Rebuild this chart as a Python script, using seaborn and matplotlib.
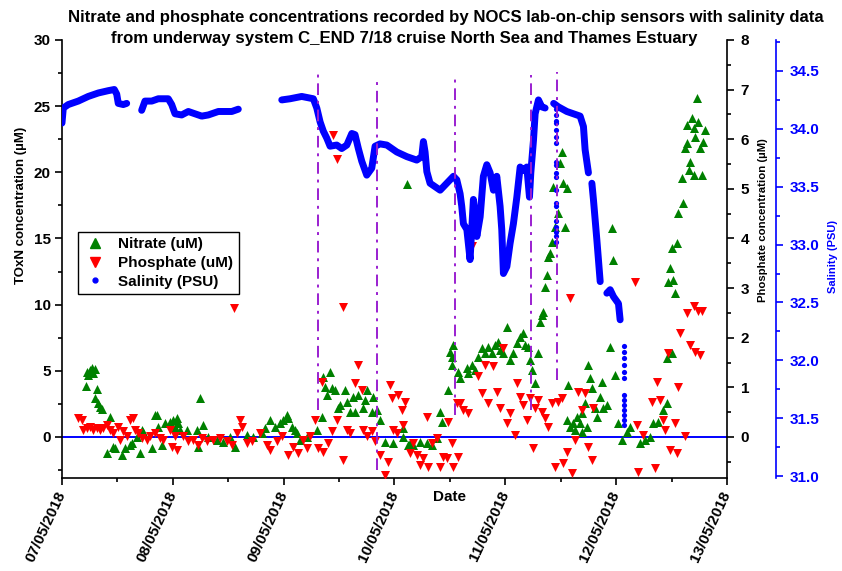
import numpy as np
import pandas as pd
import matplotlib
matplotlib.use("Agg")
import matplotlib.pyplot as plt
import seaborn as sns
from matplotlib.ticker import MultipleLocator, FormatStrFormatter
from matplotlib.lines import Line2D

# ---------------- data (time in days after 07/05/2018 00:00) ----------------
date_labels = ["07/05/2018", "08/05/2018", "09/05/2018", "10/05/2018",
               "11/05/2018", "12/05/2018", "13/05/2018"]

nitrate_day = [0.226, 0.253, 0.271, 0.298, 0.280, 0.235, 0.214, 0.313, 0.298, 0.328,
               0.343, 0.358, 0.433, 0.403, 0.463, 0.478, 0.539, 0.569, 0.614, 0.629,
               0.674, 0.704, 0.719, 0.734, 0.810, 0.839, 0.855, 0.869, 0.900, 0.930,
               0.975, 1.005, 1.035, 1.050, 1.020, 1.065, 1.125, 1.216, 1.245, 1.275,
               1.230, 1.320, 1.396, 1.456, 1.516, 1.561, 1.667, 1.727, 1.802, 1.832,
               1.877, 1.922, 1.968, 1.997, 2.028, 2.042, 2.073, 2.103, 2.118, 2.148,
               2.208, 2.299, 2.344, 2.358, 2.419, 2.374, 2.389, 2.434, 2.464, 2.494,
               2.509, 2.554, 2.569, 2.599, 2.629, 2.644, 2.674, 2.719, 2.735, 2.750,
               2.795, 2.810, 2.840, 2.870, 2.915, 2.990, 3.080, 3.125, 3.171, 3.231,
               3.292, 3.337, 3.412, 3.427, 3.486, 3.517, 3.502, 3.111, 3.080, 3.141,
               3.382, 3.532, 3.517, 3.577, 3.592, 3.653, 3.667, 3.698, 3.727, 3.757,
               3.788, 3.818, 3.848, 3.878, 3.908, 3.938, 3.953, 3.983, 4.014, 4.043,
               4.073, 4.104, 4.134, 4.163, 4.179, 4.209, 4.224, 4.239, 4.269, 4.299,
               4.314, 4.329, 4.344, 4.359, 4.375, 4.389, 4.404, 4.420, 4.449, 4.479,
               4.434, 4.495, 4.510, 4.524, 4.540, 4.555, 4.569, 4.615, 4.645, 4.690,
               4.720, 4.750, 4.765, 4.781, 4.810, 4.826, 4.856, 4.871, 4.885, 4.916,
               4.946, 4.961, 4.976, 4.991, 5.021, 5.051, 5.097, 5.126, 5.217, 5.262,
               5.307, 5.337, 5.382, 5.427, 5.458, 5.458, 5.503, 5.472, 5.517, 5.487,
               5.532, 5.503, 5.548, 5.562, 5.607, 5.593, 5.623, 5.638, 5.653, 5.668,
               5.683, 5.638, 5.698, 5.713, 5.728, 5.743, 5.698, 5.758, 5.773, 5.788,
               5.803, 4.555, 4.585, 4.630, 4.675, 4.690, 4.736]
nitrate_um = [4.91, 5.06, 5.22, 5.14, 4.84, 4.69, 3.86, 3.63, 2.97, 2.57,
              2.29, 2.12, 1.53, -1.19, -0.73, -0.83, -1.36, -0.83, -0.60, -0.45,
              0.02, -1.21, 0.53, 0.40, -0.85, 1.66, 1.66, 0.78, -0.60, 1.04,
              1.16, 1.28, 1.41, 1.04, 0.78, 0.53, 0.53, 0.53, 2.93, 0.91,
              -0.73, 0.02, -0.23, -0.36, 0.02, -0.73, 0.15, 0.02, 0.28, 0.66,
              1.28, 0.78, 1.04, 1.28, 1.66, 1.41, 0.78, 0.53, 0.28, -0.23,
              0.02, 0.53, 1.49, 4.56, 4.89, 3.80, 3.17, 3.68, 3.55, 2.17,
              2.42, 3.55, 2.67, 1.91, 3.05, 1.91, 3.17, 2.17, 2.80, 3.55,
              1.91, 3.05, 2.04, 1.28, -0.36, -0.48, 0.02, -0.60, -0.60, -0.36,
              -0.48, -0.60, 1.91, 1.16, 3.55, 5.44, 6.45, 19.12, 0.66, -0.48,
              -0.10, 6.95, 6.07, 4.94, 4.44, 5.19, 4.81, 5.44, 5.06, 6.07,
              6.70, 6.33, 6.83, 6.33, 6.95, 7.20, 6.58, 6.33, 8.34, 5.82,
              6.33, 7.08, 7.58, 7.84, 6.95, 6.83, 5.82, 5.06, 4.06, 6.33,
              8.72, 9.22, 9.47, 11.36, 12.24, 13.63, 13.89, 14.76, 15.90, 16.91,
              18.92, 20.69, 21.57, 19.18, 15.90, 18.80, 3.93, 1.04, 1.53, 1.79,
              2.55, 5.44, 4.44, 3.68, 2.17, 1.53, 3.05, 4.18, 2.17, 2.42,
              6.83, 15.77, 13.38, 4.69, 1.04, -0.23, 0.40, 0.78, -0.48, -0.23,
              0.02, 1.04, 1.16, 2.04, 2.55, 5.95, 6.33, 11.74, 11.87, 12.75,
              10.86, 14.26, 14.64, 16.91, 17.66, 19.55, 21.82, 22.20, 20.18, 20.81,
              24.09, 23.58, 23.33, 22.70, 25.60, 23.83, 19.80, 21.82, 19.80, 22.32,
              23.20, 1.28, 0.78, 0.53, 1.04, 0.40, 0.78]

phosphate_day = [0.147, 0.178, 0.192, 0.223, 0.253, 0.282, 0.313, 0.343, 0.373, 0.403,
                 0.433, 0.463, 0.508, 0.523, 0.553, 0.584, 0.614, 0.644, 0.659, 0.689,
                 0.719, 0.764, 0.794, 0.839, 0.884, 0.914, 0.975, 0.990, 1.035, 1.020,
                 1.095, 1.140, 1.185, 1.230, 1.261, 1.306, 1.366, 1.426, 1.486, 1.532,
                 1.577, 1.552, 1.606, 1.622, 1.667, 1.712, 1.787, 1.848, 1.877, 1.938,
                 1.983, 2.042, 2.088, 2.133, 2.178, 2.208, 2.238, 2.283, 2.313, 2.344,
                 2.358, 2.403, 2.434, 2.449, 2.479, 2.479, 2.539, 2.536, 2.569, 2.599,
                 2.644, 2.674, 2.705, 2.719, 2.750, 2.795, 2.825, 2.870, 2.915, 2.945,
                 2.960, 2.976, 2.990, 3.021, 3.035, 3.066, 3.096, 3.080, 3.141, 3.171,
                 3.201, 3.231, 3.261, 3.292, 3.306, 3.337, 3.382, 3.412, 3.441, 3.472,
                 3.486, 3.517, 3.532, 3.562, 3.577, 3.592, 3.622, 3.667, 3.698, 3.757,
                 3.788, 3.818, 3.848, 3.893, 3.923, 3.953, 3.983, 4.014, 4.043, 4.088,
                 4.104, 4.134, 4.163, 4.194, 4.224, 4.254, 4.269, 4.299, 4.329, 4.359,
                 4.389, 4.420, 4.449, 4.479, 4.510, 4.524, 4.555, 4.585, 4.600, 4.630,
                 4.660, 4.690, 4.720, 4.750, 4.781, 4.795, 5.172, 5.187, 5.201, 5.246,
                 5.322, 5.352, 5.367, 5.397, 5.427, 5.442, 5.472, 5.487, 5.532, 5.548,
                 5.562, 5.578, 5.623, 5.638, 5.668, 5.698, 5.713, 5.743, 5.758, 5.773]
phosphate_um = [0.38, 0.34, 0.14, 0.18, 0.21, 0.14, 0.18, 0.14, 0.18, 0.24,
                0.14, 0.07, 0.21, -0.06, 0.11, 0.01, 0.34, 0.38, 0.14, 0.07,
                -0.03, -0.06, 0.01, 0.07, -0.03, -0.06, 0.14, -0.20, -0.26, 0.01,
                0.01, -0.09, -0.06, -0.16, -0.03, -0.09, -0.06, -0.03, -0.09, -0.16,
                0.07, 2.60, 0.34, 0.21, -0.13, -0.09, 0.07, -0.16, -0.26, -0.09,
                0.01, -0.36, -0.20, -0.33, -0.06, -0.23, 0.01, 0.34, -0.23, 1.11,
                -0.30, -0.13, 0.11, 6.09, 5.60, 0.34, -0.46, 2.62, 0.14, 0.07,
                1.08, 1.45, 0.95, 0.14, 0.01, 0.11, -0.09, -0.36, -0.77, -0.50,
                1.05, 0.78, 0.14, 0.07, 0.85, 0.54, 0.71, 0.24, -0.33, -0.13,
                -0.36, -0.56, -0.43, 0.41, -0.60, -0.13, -0.03, -0.60, -0.40, -0.43,
                0.31, -0.13, -0.60, 0.68, -0.40, 0.68, 0.54, 0.48, 3.84, 1.22,
                0.88, 1.45, 0.68, 1.42, 0.91, 0.58, 1.79, 0.28, 0.48, 0.04,
                1.08, 0.81, 0.65, 0.34, 0.78, -0.23, 0.58, 0.75, 0.51, 0.38,
                0.21, 0.68, -0.60, 0.71, 0.78, -0.53, -0.30, 2.80, -0.73, -0.06,
                0.91, 0.54, 0.88, -0.20, -0.46, 0.58, 3.13, 0.24, -0.70, 0.04,
                0.71, -0.63, 1.11, 0.75, 0.34, 0.14, 1.69, -0.26, 0.28, -0.33,
                1.01, 2.09, 0.01, 2.49, 1.85, 2.63, 1.72, 2.53, 1.65, 2.53]

# continuous salinity record, split into logging segments
salinity_seg = [1] * 12 + [2] * 16 + [3] * 64 + [4] * 8 + [5] * 4 + [6] * 5
salinity_day = [0.000, 0.012, 0.057, 0.147, 0.237, 0.328, 0.418, 0.472, 0.494, 0.508, 0.553, 0.584,
                0.719, 0.749, 0.810, 0.869, 0.959, 0.990, 1.020, 1.080, 1.140, 1.200, 1.261, 1.320,
                1.411, 1.471, 1.532, 1.591,
                1.983, 2.058, 2.163, 2.268, 2.299, 2.329, 2.358, 2.389, 2.419, 2.479, 2.524, 2.570,
                2.615, 2.644, 2.674, 2.705, 2.750, 2.795, 2.825, 2.870, 2.931, 3.021, 3.111, 3.201,
                3.246, 3.261, 3.276, 3.292, 3.321, 3.412, 3.472, 3.532, 3.562, 3.592, 3.607, 3.622,
                3.653, 3.682, 3.712, 3.727, 3.743, 3.773, 3.802, 3.833, 3.863, 3.893, 3.923, 3.953,
                3.968, 3.983, 4.014, 4.043, 4.073, 4.104, 4.134, 4.163, 4.194, 4.218, 4.230, 4.254,
                4.269, 4.299, 4.329, 4.359,
                4.436, 4.479, 4.555, 4.615, 4.675, 4.705, 4.720, 4.750,
                4.781, 4.795, 4.826, 4.856,
                4.916, 4.946, 4.976, 5.021, 5.036]
salinity_psu = [34.05, 34.18, 34.21, 34.24, 34.28, 34.31, 34.33, 34.34, 34.30, 34.22, 34.21, 34.22,
                34.16, 34.24, 34.24, 34.26, 34.26, 34.21, 34.13, 34.12, 34.15, 34.13, 34.11, 34.12,
                34.15, 34.15, 34.15, 34.17,
                34.25, 34.26, 34.28, 34.26, 34.18, 34.06, 33.98, 33.92, 33.85, 33.86, 33.83, 33.86,
                33.96, 33.95, 33.83, 33.72, 33.60, 33.66, 33.85, 33.87, 33.86, 33.80, 33.76, 33.73,
                33.76, 33.89, 33.80, 33.63, 33.53, 33.47, 33.53, 33.59, 33.56, 33.44, 33.33, 33.18,
                33.13, 32.87, 33.39, 33.27, 33.07, 33.24, 33.59, 33.69, 33.62, 33.47, 33.59, 33.33,
                33.13, 32.75, 32.81, 33.01, 33.18, 33.41, 33.67, 33.64, 33.67, 33.41, 33.62, 33.90,
                34.13, 34.25, 34.19, 34.18,
                34.22, 34.19, 34.15, 34.13, 34.11, 34.02, 33.82, 33.62,
                33.53, 33.39, 33.04, 32.68,
                32.58, 32.61, 32.55, 32.49, 32.35]

# sparse salinity readings while the sensor was flushing
salinity_dot_day = [4.46] * 19 + [5.068] * 13
salinity_dot_psu = [34.17, 34.12, 34.07, 34.05, 33.99, 33.93, 33.88, 33.71, 33.69, 33.62,
                    33.58, 33.47, 33.36, 33.33, 33.20, 33.15, 33.11, 33.07, 33.02,
                    32.12, 32.07, 32.02, 31.96, 31.90, 31.85, 31.70, 31.66, 31.61,
                    31.57, 31.53, 31.48, 31.44]

# sampling events marked on the track
event_day = [2.31, 2.84, 3.547, 4.233, 4.467]

nit_df = pd.DataFrame({"day": nitrate_day, "conc": nitrate_um})
pho_df = pd.DataFrame({"day": phosphate_day, "conc": phosphate_um})
sal_df = pd.DataFrame({"day": salinity_day, "psu": salinity_psu, "seg": salinity_seg})
sdot_df = pd.DataFrame({"day": salinity_dot_day, "psu": salinity_dot_psu})

# ---------------- styling ----------------
sns.set_theme(style="ticks")
plt.rcParams["font.family"] = ["Liberation Sans", "DejaVu Sans"]
plt.rcParams["font.weight"] = "bold"
plt.rcParams["axes.labelweight"] = "bold"
for key in ("text.color", "axes.labelcolor", "xtick.color", "ytick.color",
            "xtick.labelcolor", "ytick.labelcolor", "axes.edgecolor"):
    plt.rcParams[key] = "black"

GREEN, RED, BLUE, PURPLE = "#008000", "#ff0000", "#0000ff", "#9a1fd0"

fig = plt.figure(figsize=(8.42, 5.71), dpi=100)
ax = fig.add_axes([0.0736, 0.1629, 0.7898, 0.7671])
ax2 = ax.twinx()
ax3 = ax.twinx()
for a in (ax, ax2, ax3):
    a.set_facecolor("none")
    a.spines["top"].set_visible(False)

# nitrate (left axis)
sns.scatterplot(data=nit_df, x="day", y="conc", marker="^", s=42, color=GREEN,
                linewidth=0, ax=ax, legend=False, zorder=3)
ax.axhline(0, color=BLUE, lw=1.4, zorder=2)

# phosphate (right axis)
sns.scatterplot(data=pho_df, x="day", y="conc", marker="v", s=42, color=RED,
                linewidth=0, ax=ax2, legend=False, zorder=3)

# salinity (offset right axis)
sns.lineplot(data=sal_df, x="day", y="psu", units="seg", estimator=None, sort=False,
             color=BLUE, lw=5, solid_capstyle="round", solid_joinstyle="round",
             ax=ax3, legend=False, zorder=4)
sns.scatterplot(data=sdot_df, x="day", y="psu", s=14, color=BLUE, linewidth=0,
                ax=ax3, legend=False, zorder=4)

# event markers
ev_span = [(0.155, 0.927), (0.018, 0.909), (0.144, 0.913), (0.155, 0.920), (0.224, 0.927)]
for d, (lo, hi) in zip(event_day, ev_span):
    ax3.axvline(d, ymin=lo, ymax=hi, color=PURPLE, lw=1.4,
                linestyle=(0, (6, 3, 1.5, 3)), zorder=5)

# axes limits and ticks
ax.set_xlim(0, 6)
ax.set_ylim(-3.1, 30)
ax2.set_ylim(-0.827, 8)
ax3.set_ylim(30.983, 34.768)

ax.set_xticks(range(len(date_labels)))
ax.set_xticklabels(date_labels, rotation=65, ha="right", va="center",
                   rotation_mode="anchor", fontsize=11, fontweight="bold")
ax.xaxis.set_minor_locator(MultipleLocator(0.5))
ax.yaxis.set_major_locator(MultipleLocator(5))
ax.yaxis.set_minor_locator(MultipleLocator(2.5))
ax2.yaxis.set_major_locator(MultipleLocator(1))
ax2.yaxis.set_minor_locator(MultipleLocator(0.5))
ax3.yaxis.set_major_locator(MultipleLocator(0.5))
ax3.yaxis.set_minor_locator(MultipleLocator(0.25))
ax3.yaxis.set_major_formatter(FormatStrFormatter("%.1f"))

for a in (ax, ax2):
    for s in a.spines.values():
        s.set_color("black")
        s.set_linewidth(1.2)
ax.spines["right"].set_visible(False)
ax2.spines["left"].set_visible(False)
ax2.spines["bottom"].set_visible(False)
ax3.spines["left"].set_visible(False)
ax3.spines["bottom"].set_visible(False)
ax3.spines["right"].set_position(("outward", 35))
ax3.spines["right"].set_color(BLUE)
ax3.spines["right"].set_linewidth(1.2)

ax.tick_params(axis="both", which="major", direction="out", length=5, width=1.2,
               color="black", labelcolor="black", labelsize=11, pad=3)
ax.tick_params(axis="both", which="minor", direction="out", length=3, width=1.2, color="black")
ax.tick_params(axis="x", pad=5)
ax2.tick_params(axis="y", which="major", direction="out", length=5, width=1.2,
                color="black", labelcolor="black", labelsize=11, pad=5)
ax2.tick_params(axis="y", which="minor", direction="out", length=3, width=1.2, color="black")
ax3.tick_params(axis="y", which="major", direction="out", length=5, width=1.2,
                color=BLUE, labelcolor=BLUE, labelsize=11, pad=5)
ax3.tick_params(axis="y", which="minor", direction="out", length=3, width=1.2, color=BLUE)
for a in (ax, ax2, ax3):
    for lab in a.get_yticklabels():
        lab.set_fontweight("bold")

# axis labels
ax.set_xlabel("Date", fontsize=11, fontweight="bold", va="top", color="black")
ax.xaxis.set_label_coords(0.582, -0.027)
ax.set_ylabel("TOxN concentration (µM)", fontsize=9.5, fontweight="bold", color="black")
ax.yaxis.label.set_rotation_mode("default")
ax.yaxis.label.set_va("center")
ax.yaxis.set_label_coords(-0.062, 0.623)
ax2.set_ylabel("Phosphate concentration (µM)", fontsize=8.2, fontweight="bold", color="black")
ax2.yaxis.label.set_rotation_mode("default")
ax2.yaxis.label.set_va("center")
ax2.yaxis.set_label_coords(1.054, 0.588)
ax3.set_ylabel("Salinity (PSU)", fontsize=8, fontweight="bold", color=BLUE)
ax3.yaxis.label.set_rotation_mode("default")
ax3.yaxis.label.set_va("center")
ax3.yaxis.set_label_coords(1.159, 0.505)

# title, two lines
fig.text(0.530, 0.970,
         "Nitrate and phosphate concentrations recorded by NOCS lab-on-chip sensors with salinity data",
         ha="center", va="center", fontsize=12.1, fontweight="bold", color="black")
fig.text(0.480, 0.933,
         "from underway system C_END 7/18 cruise North Sea and Thames Estuary",
         ha="center", va="center", fontsize=12.1, fontweight="bold", color="black")

# legend
handles = [
    Line2D([], [], marker="^", color=GREEN, linestyle="none", markersize=7),
    Line2D([], [], marker="v", color=RED, linestyle="none", markersize=7),
    Line2D([], [], marker="o", color=BLUE, linestyle="none", markersize=3.5),
]
leg = ax3.legend(handles, ["Nitrate (uM)", "Phosphate (uM)", "Salinity (PSU)"],
                 loc="upper left", bbox_to_anchor=(0.0926, 0.5937),
                 bbox_transform=fig.transFigure, borderaxespad=0, frameon=True,
                 fancybox=False, edgecolor="black", framealpha=1, borderpad=0.35,
                 labelspacing=0.3, handletextpad=0.8, handlelength=1.5,
                 prop={"weight": "bold", "size": 11})
leg.get_frame().set_linewidth(1.0)
for t in leg.get_texts():
    t.set_color("black")

fig.savefig("out.png", dpi=100)
